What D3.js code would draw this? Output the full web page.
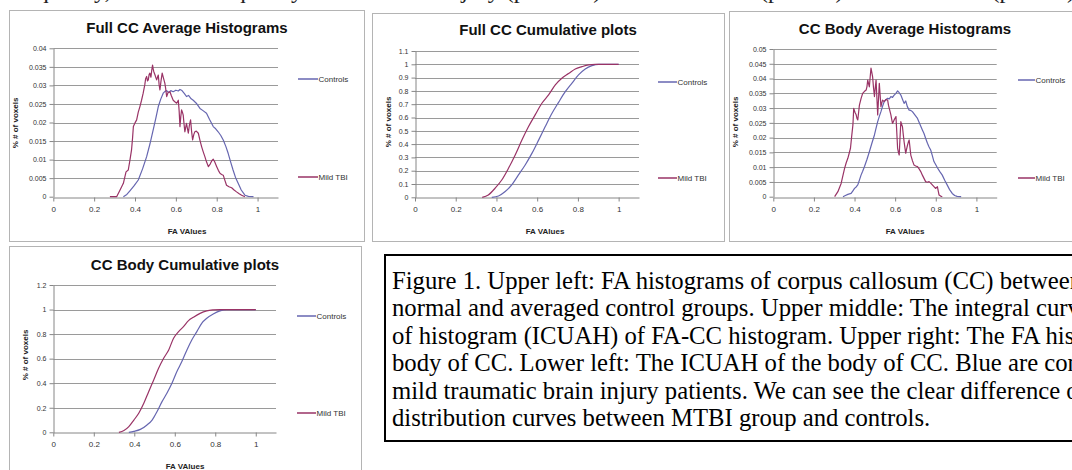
<!DOCTYPE html>
<html>
<head>
<meta charset="utf-8">
<script src="https://cdn.jsdelivr.net/npm/d3@7"></script>
<style>
  body { margin: 0; background: #fff; }
  svg text { font-family: "Liberation Sans", Arial, sans-serif; }
  .serif { font-family: "Liberation Serif", "Times New Roman", serif !important; }
</style>
</head>
<body>
<script>
// ******************** Data *******************************************

var seriesNames = ["Controls", "Mild TBI"]
var xTicks = [0, 0.2, 0.4, 0.6, 0.8, 1]

var fullHistYTicks = [0, 0.005, 0.01, 0.015, 0.02, 0.025, 0.03, 0.035, 0.04]
var fullCumYTicks = [0, 0.1, 0.2, 0.3, 0.4, 0.5, 0.6, 0.7, 0.8, 0.9, 1, 1.1]
var bodyHistYTicks = [0, 0.005, 0.01, 0.015, 0.02, 0.025, 0.03, 0.035, 0.04, 0.045, 0.05]
var bodyCumYTicks = [0, 0.2, 0.4, 0.6, 0.8, 1, 1.2]

// [FA value, fraction of voxels]
var fullHistControls = [[0.343,0],[0.36,0.0006],[0.375,0.0016],[0.395,0.0029],[0.416,0.0045],[0.437,0.0075],
  [0.457,0.0108],[0.473,0.0142],[0.489,0.018],[0.502,0.0212],[0.514,0.0243],[0.526,0.0263],[0.538,0.0279],
  [0.547,0.0284],[0.555,0.0286],[0.565,0.0281],[0.575,0.0286],[0.587,0.0283],[0.6,0.0287],[0.612,0.0285],
  [0.62,0.0289],[0.63,0.0286],[0.642,0.0278],[0.652,0.027],[0.662,0.0273],[0.675,0.0264],[0.685,0.026],
  [0.7,0.0252],[0.718,0.0238],[0.733,0.0232],[0.75,0.0225],[0.765,0.0208],[0.783,0.0189],[0.795,0.0183],
  [0.807,0.0175],[0.82,0.0165],[0.832,0.0153],[0.845,0.0135],[0.856,0.0117],[0.868,0.0094],[0.88,0.0072],
  [0.892,0.0052],[0.905,0.0036],[0.92,0.0018],[0.938,0.0004],[0.955,0.0001],[0.98,0]]

var fullHistTbi = [[0.277,0],[0.31,0],[0.325,0.0016],[0.343,0.0036],[0.356,0.0067],[0.367,0.0072],
  [0.375,0.0098],[0.383,0.0126],[0.388,0.0158],[0.392,0.0189],[0.4,0.0199],[0.408,0.0207],[0.416,0.0228],
  [0.424,0.0243],[0.432,0.026],[0.44,0.0279],[0.448,0.0302],[0.452,0.0318],[0.457,0.0324],[0.461,0.0312],
  [0.465,0.0315],[0.469,0.0329],[0.473,0.0333],[0.478,0.0322],[0.482,0.0341],[0.486,0.0355],[0.489,0.0344],
  [0.492,0.0337],[0.498,0.0328],[0.502,0.0321],[0.506,0.0315],[0.51,0.0322],[0.514,0.0328],[0.518,0.0302],
  [0.522,0.0288],[0.527,0.0311],[0.533,0.0333],[0.54,0.0318],[0.546,0.0306],[0.55,0.0292],[0.555,0.027],
  [0.562,0.0281],[0.571,0.0283],[0.578,0.0272],[0.587,0.026],[0.595,0.0256],[0.604,0.0252],[0.612,0.026],
  [0.616,0.0232],[0.62,0.0189],[0.624,0.0215],[0.628,0.0234],[0.632,0.0228],[0.636,0.022],[0.64,0.0196],
  [0.644,0.0175],[0.648,0.0186],[0.652,0.0198],[0.657,0.0183],[0.661,0.0171],[0.666,0.0192],[0.672,0.0207],
  [0.677,0.0176],[0.682,0.0153],[0.688,0.0168],[0.693,0.0175],[0.7,0.0177],[0.71,0.0171],[0.718,0.0152],
  [0.726,0.0135],[0.734,0.0121],[0.742,0.0108],[0.75,0.0094],[0.759,0.0081],[0.768,0.0088],[0.776,0.0097],
  [0.783,0.0101],[0.79,0.0094],[0.8,0.0081],[0.808,0.0071],[0.816,0.0063],[0.824,0.006],[0.832,0.0058],
  [0.84,0.0044],[0.848,0.0031],[0.86,0.0027],[0.873,0.0024],[0.885,0.0018],[0.897,0.0013],[0.91,0.0008],
  [0.922,0.0004],[0.938,0]]

var fullCumControls = [[0.377,0],[0.41,0.01],[0.443,0.043],[0.475,0.093],[0.508,0.168],[0.541,0.243],
  [0.574,0.33],[0.607,0.43],[0.639,0.53],[0.672,0.63],[0.705,0.714],[0.738,0.794],[0.77,0.857],
  [0.803,0.92],[0.836,0.965],[0.869,0.99],[0.902,1],[1,1]]

var fullCumTbi = [[0.33,0],[0.36,0.018],[0.393,0.068],[0.426,0.13],[0.459,0.218],[0.492,0.318],
  [0.525,0.43],[0.557,0.53],[0.59,0.62],[0.623,0.707],[0.656,0.77],[0.689,0.845],[0.721,0.895],
  [0.754,0.93],[0.787,0.965],[0.82,0.982],[0.852,0.995],[0.885,1],[1,1]]

var bodyHistControls = [[0.343,0],[0.355,0.0004],[0.367,0.0008],[0.383,0.0011],[0.392,0.002],[0.4,0.0028],
  [0.408,0.0033],[0.416,0.004],[0.424,0.0056],[0.432,0.0073],[0.44,0.0086],[0.449,0.0102],[0.461,0.0126],
  [0.473,0.0152],[0.485,0.018],[0.498,0.0209],[0.506,0.0232],[0.514,0.0254],[0.522,0.0272],[0.53,0.0288],
  [0.538,0.0306],[0.546,0.0322],[0.555,0.0329],[0.563,0.0333],[0.571,0.0331],[0.579,0.0339],[0.587,0.0336],
  [0.595,0.0344],[0.604,0.035],[0.612,0.0358],[0.62,0.0352],[0.628,0.0344],[0.636,0.033],[0.644,0.0316],
  [0.648,0.032],[0.652,0.0324],[0.66,0.0305],[0.669,0.0293],[0.677,0.0292],[0.685,0.0288],[0.697,0.0277],
  [0.71,0.0265],[0.722,0.0245],[0.734,0.0226],[0.742,0.0214],[0.75,0.0198],[0.759,0.0181],[0.767,0.0168],
  [0.775,0.0158],[0.783,0.0139],[0.791,0.0119],[0.8,0.0108],[0.808,0.0098],[0.82,0.0085],[0.832,0.0073],
  [0.844,0.0056],[0.856,0.004],[0.868,0.0024],[0.881,0.0011],[0.893,0.0004],[0.905,0.0001],[0.925,0]]

var bodyHistTbi = [[0.302,0],[0.318,0.0017],[0.334,0.0045],[0.343,0.0072],[0.351,0.0096],[0.359,0.0115],
  [0.367,0.013],[0.374,0.0148],[0.38,0.0164],[0.386,0.0205],[0.392,0.0243],[0.396,0.0299],[0.402,0.0286],
  [0.408,0.0277],[0.412,0.0265],[0.416,0.026],[0.42,0.0285],[0.424,0.031],[0.432,0.0332],[0.44,0.035],
  [0.448,0.0356],[0.457,0.0361],[0.461,0.0372],[0.465,0.0395],[0.469,0.0383],[0.473,0.0372],[0.477,0.0405],
  [0.481,0.0435],[0.485,0.0421],[0.489,0.0406],[0.493,0.0372],[0.498,0.0339],[0.502,0.0368],[0.506,0.0395],
  [0.51,0.0336],[0.514,0.0277],[0.518,0.033],[0.522,0.0384],[0.526,0.0344],[0.53,0.0305],[0.534,0.0317],
  [0.538,0.0327],[0.546,0.0322],[0.554,0.0329],[0.563,0.0327],[0.567,0.031],[0.571,0.0299],[0.575,0.0288],
  [0.579,0.0277],[0.583,0.0262],[0.587,0.0248],[0.595,0.026],[0.604,0.0271],[0.608,0.0218],[0.612,0.0164],
  [0.616,0.015],[0.62,0.0141],[0.624,0.02],[0.628,0.0254],[0.632,0.0245],[0.636,0.0237],[0.64,0.021],
  [0.644,0.0186],[0.648,0.0166],[0.652,0.0147],[0.656,0.016],[0.661,0.0175],[0.665,0.0185],[0.669,0.0192],
  [0.673,0.0166],[0.677,0.0141],[0.685,0.0122],[0.693,0.0107],[0.701,0.0104],[0.71,0.0102],[0.718,0.0094],
  [0.726,0.0085],[0.734,0.0073],[0.742,0.0062],[0.75,0.0051],[0.758,0.0049],[0.767,0.0051],[0.775,0.0046],
  [0.783,0.004],[0.791,0.0034],[0.799,0.0028],[0.804,0.0031],[0.808,0.0034],[0.812,0.002],[0.816,0.0006],
  [0.824,0.0002],[0.832,0]]

var bodyCumControls = [[0.373,0],[0.398,0.008],[0.43,0.024],[0.463,0.06],[0.488,0.1],[0.512,0.168],
  [0.537,0.25],[0.561,0.318],[0.586,0.4],[0.61,0.494],[0.635,0.576],[0.66,0.671],[0.684,0.752],
  [0.709,0.82],[0.733,0.888],[0.758,0.929],[0.79,0.964],[0.823,0.989],[0.856,1],[1,1]]

var bodyCumTbi = [[0.324,0],[0.349,0.014],[0.373,0.046],[0.398,0.1],[0.422,0.155],[0.447,0.236],
  [0.471,0.331],[0.496,0.426],[0.52,0.521],[0.545,0.603],[0.57,0.671],[0.594,0.766],[0.619,0.82],
  [0.643,0.861],[0.668,0.91],[0.692,0.937],[0.725,0.969],[0.758,0.989],[0.79,0.997],[0.823,1],[1,1]]

var captionLines = [
  "Figure 1. Upper left: FA histograms of corpus callosum (CC) between the",
  "normal and averaged control groups. Upper middle: The integral curve under",
  "of histogram (ICUAH) of FA-CC histogram. Upper right: The FA histogram of the",
  "body of CC. Lower left: The ICUAH of the body of CC. Blue are controls and red",
  "mild traumatic brain injury patients. We can see the clear difference of the",
  "distribution curves between MTBI group and controls."
]
var topLine = "frequency, the Scott frequency of the diffuse injury (p<0.001) for the controls (p<0.05) and the scores (p<0.05) for MTBI"

// ******************** Chart code ***********************

var W = 1072, H = 470
var svg = d3.select('body').append('svg').attr('width', W).attr('height', H)

var blue = '#6666b0', plum = '#993366'

var charts = [
  { title: 'Full CC Average Histograms', frame: [9, 10, 364, 241], left: 53.3, right: 278, top: 48.3, bottom: 196.7,
    yMax: 0.04, yTicks: fullHistYTicks, series: [fullHistControls, fullHistTbi], curve: d3.curveLinear,
    titleX: 187, titleY: 28, legX: 298, legLen: 20, legY: [79, 177], labX: 187, labY: 231, ylabX: 15, ylabY: 123 },
  { title: 'Full CC Cumulative plots', frame: [372, 13, 724, 241], left: 415, right: 639, top: 51, bottom: 197.3,
    yMax: 1.1, yTicks: fullCumYTicks, series: [fullCumControls, fullCumTbi], curve: d3.curveMonotoneX,
    titleX: 548, titleY: 30, legX: 658, legLen: 19, legY: [82, 178], labX: 545, labY: 231, ylabX: 388, ylabY: 122 },
  { title: 'CC Body  Average Histograms', frame: [729, 11, 1090, 241], left: 773.3, right: 996.7, top: 49, bottom: 196.7,
    yMax: 0.05, yTicks: bodyHistYTicks, series: [bodyHistControls, bodyHistTbi], curve: d3.curveLinear,
    titleX: 905, titleY: 29, legX: 1018, legLen: 17, legY: [80, 178], labX: 905, labY: 231, ylabX: 735, ylabY: 122 },
  { title: 'CC Body  Cumulative plots', frame: [9, 246, 361, 490], left: 53.3, right: 276, top: 285, bottom: 432.3,
    yMax: 1.2, yTicks: bodyCumYTicks, series: [bodyCumControls, bodyCumTbi], curve: d3.curveMonotoneX,
    titleX: 185, titleY: 265, legX: 297, legLen: 19, legY: [316, 413], labX: 185, labY: 466, ylabX: 25, ylabY: 355 }
]

function drawChart(c) {
  var g = svg.append('g')
  var f = c.frame
  g.append('rect')
    .attr('x', f[0] + 0.5).attr('y', f[1] + 0.5)
    .attr('width', f[2] - f[0]).attr('height', f[3] - f[1])
    .attr('fill', '#fff').attr('stroke', '#b4b4b4')

  var x = d3.scaleLinear().domain([0, 1.1]).range([c.left, c.right])
  var y = d3.scaleLinear().domain([0, c.yMax]).range([c.bottom, c.top])

  // gridlines
  g.selectAll('line.grid').data(c.yTicks.filter(function(d){ return d > 0 }))
    .enter().append('line').attr('class', 'grid')
    .attr('x1', c.left).attr('x2', c.right)
    .attr('y1', function(d){ return Math.round(y(d)) + 0.5 })
    .attr('y2', function(d){ return Math.round(y(d)) + 0.5 })
    .attr('stroke', '#9a9a9a').attr('stroke-width', 1)

  var fmt = function(d){ return String(+d.toFixed(3)) }

  var ya = g.append('g').attr('transform', 'translate(' + (Math.round(c.left) + 0.5) + ',0)')
    .call(d3.axisLeft(y).tickValues(c.yTicks).tickSize(4).tickSizeOuter(0).tickPadding(3).tickFormat(fmt))
  var xa = g.append('g').attr('transform', 'translate(0,' + (Math.round(c.bottom) + 0.5) + ')')
    .call(d3.axisBottom(x).tickValues(xTicks).tickSize(4).tickSizeOuter(0).tickPadding(5).tickFormat(fmt))
  ya.select('.domain').attr('stroke', '#868686')
  xa.select('.domain').attr('stroke', '#868686')
  ya.selectAll('.tick line').attr('stroke', '#868686')
  xa.selectAll('.tick line').attr('stroke', '#868686')
  ya.selectAll('text').attr('font-size', 7).attr('fill', '#333').style('font-family', '"Liberation Sans", Arial')
  xa.selectAll('text').attr('font-size', 8).attr('fill', '#333').style('font-family', '"Liberation Sans", Arial')

  // series lines
  var line = d3.line().x(function(d){ return x(d[0]) }).y(function(d){ return y(d[1]) }).curve(c.curve)
  var colors = [blue, plum]
  c.series.forEach(function(s, i) {
    g.append('path').datum(s).attr('d', line)
      .attr('fill', 'none').attr('stroke', colors[i]).attr('stroke-width', 1.2)
      .attr('stroke-linejoin', 'round')
  })

  // title and axis titles
  g.append('text').attr('x', c.titleX).attr('y', c.titleY + 5.4)
    .attr('text-anchor', 'middle').attr('font-size', 15).attr('font-weight', 'bold').attr('fill', '#111')
    .text(c.title)
  g.append('text').attr('x', c.labX).attr('y', c.labY + 3)
    .attr('text-anchor', 'middle').attr('font-size', 8).attr('font-weight', 'bold').attr('fill', '#222')
    .text('FA VAlues')
  g.append('text').attr('transform', 'translate(' + (c.ylabX + 3) + ',' + c.ylabY + ') rotate(-90)')
    .attr('text-anchor', 'middle').attr('font-size', 8).attr('font-weight', 'bold').attr('fill', '#222')
    .text('% # of voxels')

  // legend
  seriesNames.forEach(function(name, i) {
    g.append('line').attr('x1', c.legX).attr('x2', c.legX + c.legLen)
      .attr('y1', c.legY[i]).attr('y2', c.legY[i])
      .attr('stroke', colors[i]).attr('stroke-width', 1.5)
    g.append('text').attr('x', c.legX + c.legLen + 0.5).attr('y', c.legY[i] + 3)
      .attr('font-size', 8).attr('fill', '#333').text(name)
  })
}

charts.forEach(drawChart)

// ******************** Caption ***********************

svg.append('text').attr('class', 'serif').attr('x', 10).attr('y', -2.5)
  .attr('font-size', 24).attr('fill', '#222').text(topLine)

svg.append('rect').attr('x', 385).attr('y', 255).attr('width', 720).attr('height', 186)
  .attr('fill', 'none').attr('stroke', '#000').attr('stroke-width', 2)

svg.selectAll('text.cap').data(captionLines).enter().append('text')
  .attr('class', 'cap serif')
  .attr('x', 392)
  .attr('y', function(d, i){ return 289 + i * 27.4 })
  .attr('font-size', 24.7).attr('fill', '#000')
  .text(function(d){ return d })
</script>
</body>
</html>
